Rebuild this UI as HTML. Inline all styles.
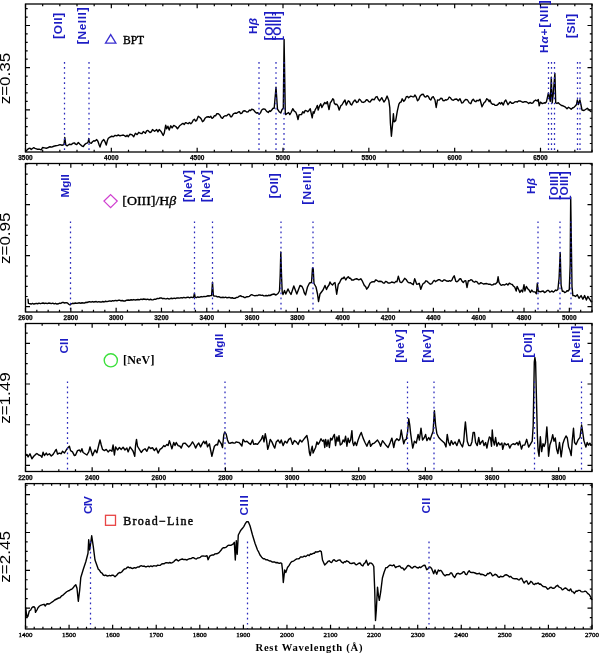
<!DOCTYPE html>
<html><head><meta charset="utf-8"><style>
html,body{margin:0;padding:0;background:#fff;}
body{width:600px;height:653px;overflow:hidden;}
svg{display:block;will-change:transform;}
</style></head><body>
<svg width="600" height="653" viewBox="0 0 600 653">
<rect width="600" height="653" fill="#fff"/>
<polyline points="25.50,151.20 26.25,150.80 28.30,148.75 30.00,148.20 31.25,149.43 32.50,148.50 33.75,147.64 35.00,148.30 37.10,149.20 39.20,149.20 41.25,149.80 42.50,147.50 44.60,147.90 46.25,148.30 48.30,147.50 50.00,146.70 51.70,147.10 53.75,146.25 55.80,145.80 57.90,145.40 60.00,144.60 62.10,145.25 64.00,144.60 64.80,137.50 65.80,145.00 67.10,145.80 68.30,145.00 69.60,144.20 71.25,144.60 72.90,143.30 74.60,142.90 75.00,143.75 76.70,144.60 78.30,142.50 80.00,144.20 81.70,145.80 83.30,146.50 84.60,144.60 86.25,143.30 87.50,142.90 88.30,141.70 88.75,138.50 89.20,141.70 90.00,142.90 91.25,143.20 92.50,141.70 93.75,140.80 95.00,141.00 96.70,139.60 97.90,141.25 99.20,145.00 100.00,147.10 100.80,144.20 102.10,141.25 103.75,139.60 105.00,141.70 106.25,145.00 107.30,140.80 108.30,138.30 110.00,137.10 111.70,136.25 113.30,136.70 115.00,135.40 116.70,135.80 118.30,135.00 120.00,135.80 121.70,135.40 123.30,135.00 124.80,135.80 125.97,136.60 127.13,135.35 128.30,136.70 130.00,134.20 131.70,134.60 133.75,136.80 135.40,133.30 137.10,134.60 138.75,132.30 140.80,133.50 142.05,133.56 143.30,131.50 145.40,133.20 146.65,130.95 147.90,130.40 150.00,132.50 151.25,131.95 152.50,129.60 154.60,131.25 156.70,129.60 157.90,131.80 159.20,129.60 161.25,131.80 163.20,135.40 164.20,133.30 165.70,125.20 166.70,128.75 167.90,126.25 169.20,130.00 170.80,125.80 172.10,127.90 173.75,125.40 175.80,126.50 177.50,128.75 179.60,125.80 181.70,124.20 182.95,123.35 184.20,124.56 185.45,122.66 186.70,123.00 188.07,123.75 189.43,122.49 190.80,123.70 192.05,122.55 193.30,120.00 194.43,119.23 195.57,121.07 196.70,120.30 198.30,116.30 200.00,117.50 201.25,119.02 202.50,121.70 203.75,120.61 205.00,118.30 206.65,116.94 208.30,116.70 209.55,117.40 210.80,116.31 212.05,118.38 213.30,117.50 214.43,115.73 215.57,115.86 216.70,113.80 218.35,113.77 220.00,115.30 221.25,117.66 222.50,118.30 223.75,116.50 225.00,115.80 226.65,115.85 228.30,114.20 229.43,114.38 230.57,116.70 231.70,116.70 233.35,113.96 235.00,113.00 236.65,113.29 238.30,112.00 239.43,111.72 240.57,113.51 241.70,113.30 243.35,110.99 245.00,110.80 246.65,112.02 248.30,111.70 249.43,110.05 250.57,110.54 251.70,109.20 253.35,109.65 255.00,111.70 256.40,113.03 257.80,112.78 259.20,114.20 260.45,112.88 261.70,110.00 263.35,108.88 265.00,109.20 266.65,111.38 268.30,112.50 269.43,110.82 270.57,111.43 271.70,110.00 272.95,108.32 274.20,108.30 276.00,87.20 277.50,109.20 279.15,111.68 280.80,113.00 282.05,109.59 283.30,108.30 284.10,39.50 285.30,113.30 285.70,114.60 287.30,113.30 288.60,112.50 289.80,114.60 291.10,112.50 292.75,108.75 294.40,111.25 295.70,112.10 296.90,115.00 298.00,119.60 299.00,115.00 300.25,114.60 301.50,114.60 302.75,111.70 304.00,112.90 305.25,110.40 306.50,110.80 307.75,111.70 309.00,110.40 310.25,108.75 311.10,112.90 312.20,117.90 313.20,111.70 314.00,113.30 315.25,109.60 316.50,107.50 317.30,105.40 318.20,110.00 319.40,106.25 320.70,103.75 321.90,107.50 323.20,105.00 324.80,102.50 326.10,103.75 327.30,101.70 329.00,109.60 330.25,102.90 331.50,101.25 332.75,98.75 333.80,100.00 334.20,103.00 335.45,104.56 336.70,104.20 337.95,106.03 339.20,110.00 340.80,105.80 342.05,104.73 343.30,102.50 345.00,100.00 346.30,105.00 348.30,100.80 349.43,101.52 350.57,104.12 351.70,105.00 353.35,101.84 355.00,100.00 356.70,102.50 357.95,101.83 359.20,99.20 360.45,100.00 361.70,102.00 363.35,102.44 365.00,101.70 366.25,99.78 367.50,100.00 368.75,101.59 370.00,102.00 372.10,99.30 374.30,99.80 375.65,97.20 377.00,96.60 378.30,99.27 379.60,100.90 381.80,97.70 383.90,102.00 385.50,99.80 387.10,96.10 388.80,100.40 389.80,107.90 390.40,122.90 391.40,136.30 392.50,125.00 393.40,113.80 394.10,121.80 395.70,120.70 397.30,111.10 398.90,104.10 400.00,102.32 401.10,102.00 402.20,98.80 403.80,101.40 405.10,99.71 406.40,96.60 407.50,96.45 408.60,97.70 410.70,96.10 412.50,96.70 413.75,96.84 415.00,95.00 416.25,97.12 417.50,100.80 418.75,99.52 420.00,96.30 421.65,94.47 423.30,94.20 424.55,96.59 425.80,97.00 427.05,95.62 428.30,96.30 429.55,98.91 430.80,100.00 432.05,97.38 433.30,96.70 435.00,100.00 436.20,107.50 437.50,100.00 439.15,100.14 440.80,98.30 441.93,98.46 443.07,100.54 444.20,100.80 445.45,99.79 446.70,100.00 447.95,99.26 449.20,97.00 450.45,97.78 451.70,99.70 453.35,100.27 455.00,99.20 456.65,99.00 458.30,100.80 460.00,98.70 461.70,103.00 462.95,102.69 464.20,100.80 465.85,99.41 467.50,100.00 469.15,102.74 470.80,103.70 472.05,100.57 473.30,99.20 474.55,101.15 475.80,101.70 477.05,100.33 478.30,100.80 480.00,99.20 482.00,106.70 484.20,102.50 485.45,101.59 486.70,98.70 487.95,99.61 489.20,101.70 490.00,100.00 491.25,103.14 492.50,104.20 493.75,104.09 495.00,105.30 496.65,105.34 498.30,104.20 499.43,102.63 500.57,104.00 501.70,102.50 503.30,105.00 504.55,101.52 505.80,100.00 508.00,104.70 510.20,101.70 511.70,103.22 513.20,103.20 514.70,101.91 516.20,101.70 517.35,102.08 518.50,101.00 520.00,100.83 521.50,101.70 523.00,102.37 524.50,101.70 526.00,101.58 527.50,102.50 528.73,103.53 529.97,102.42 531.20,103.20 532.70,103.16 534.20,101.00 535.70,100.08 537.20,101.00 538.30,99.50 539.20,105.90 540.40,102.10 542.30,103.60 544.20,102.80 545.35,102.94 546.50,101.70 547.60,96.70 548.40,92.90 549.50,97.50 550.30,101.30 551.30,77.20 552.20,102.80 553.20,94.40 554.90,73.40 555.70,102.80 557.00,103.50 558.25,102.68 559.50,104.00 561.50,105.50 563.00,105.80 565.00,106.80 567.00,108.70 568.50,107.20 570.00,108.30 571.20,109.30 572.50,108.00 574.00,107.30 575.50,105.80 576.50,104.50 577.30,100.00 578.30,104.50 579.90,100.00 580.80,104.00 582.00,110.00 584.00,110.50 585.50,109.50 587.30,108.30 588.70,109.50 590.20,111.00 591.50,112.00" fill="none" stroke="#000" stroke-width="1.4" stroke-linejoin="round"/>
<polyline points="28.00,298.80 28.40,303.30 29.60,303.70 30.00,303.70 31.25,304.03 32.50,303.46 33.75,304.02 35.00,303.70 36.34,303.37 37.68,303.73 39.02,303.17 40.36,303.68 41.70,303.30 43.08,302.99 44.47,303.50 45.85,303.12 47.23,303.62 48.62,303.06 50.00,303.30 51.38,303.66 52.77,303.18 54.15,303.85 55.53,303.31 56.92,304.03 58.30,303.80 59.55,303.17 60.80,303.43 62.05,302.53 63.30,302.50 64.70,303.00 66.10,302.67 67.50,303.00 68.75,304.26 70.00,305.00 71.25,303.81 72.50,303.30 73.95,303.48 75.40,302.99 76.85,303.41 78.30,303.00 79.55,302.81 80.80,303.26 82.05,302.77 83.30,303.00 84.55,303.05 85.80,302.30 87.05,302.47 88.30,302.00 89.64,301.71 90.98,302.21 92.32,301.56 93.66,301.98 95.00,301.70 96.25,301.52 97.50,302.07 98.75,301.69 100.00,302.00 101.38,302.04 102.77,301.52 104.15,301.99 105.53,301.23 106.92,301.60 108.30,301.30 109.73,300.92 111.16,301.30 112.59,300.67 114.01,300.97 115.44,300.40 116.87,300.77 118.30,300.30 119.64,300.15 120.98,300.81 122.32,300.53 123.66,301.02 125.00,301.00 126.65,300.23 128.30,300.00 129.70,300.22 131.10,299.72 132.50,300.02 133.90,299.55 135.30,300.05 136.70,299.70 138.08,299.46 139.47,299.84 140.85,299.18 142.23,299.53 143.62,299.02 145.00,299.20 146.38,299.49 147.77,299.19 149.15,299.79 150.53,299.25 151.92,299.89 153.30,299.70 154.64,299.11 155.98,299.26 157.32,298.35 158.66,298.62 160.00,298.00 161.25,297.89 162.50,298.68 163.75,298.33 165.00,298.70 166.25,298.92 167.50,298.36 168.75,298.95 170.00,298.70 171.38,298.28 172.77,298.70 174.15,298.17 175.53,298.52 176.92,297.87 178.30,298.00 179.70,298.17 181.10,297.62 182.50,297.98 183.90,297.37 185.30,297.84 186.70,297.50 188.15,297.16 189.60,297.84 191.05,297.16 192.50,297.50 193.60,297.30 194.40,293.30 195.20,297.40 196.40,297.58 197.60,296.90 198.80,297.29 200.00,297.00 201.34,296.56 202.68,296.90 204.02,296.40 205.36,296.61 206.70,296.30 207.97,295.73 209.23,296.02 210.50,295.60 211.60,295.50 212.50,282.30 213.40,295.80 214.50,296.00 215.94,296.13 217.38,296.93 218.82,296.60 220.26,297.43 221.70,297.50 223.02,297.25 224.34,297.67 225.66,297.16 226.98,297.84 228.30,297.50 229.64,297.36 230.98,298.03 232.32,297.70 233.66,298.42 235.00,298.30 236.45,297.46 237.90,297.22 239.35,296.18 240.80,295.80 241.93,296.60 243.07,296.62 244.20,297.50 245.57,297.47 246.93,296.71 248.30,296.70 249.43,296.35 250.57,295.17 251.70,294.70 253.35,295.42 255.00,295.80 256.25,295.42 257.50,295.59 258.75,294.98 260.00,295.00 261.25,295.36 262.50,295.18 263.75,295.86 265.00,295.80 266.25,295.54 267.50,295.85 268.75,295.23 270.00,295.50 272.00,294.50 274.00,294.00 276.00,295.00 278.00,293.50 279.50,291.00 280.20,275.00 280.80,252.00 281.50,275.00 282.20,292.00 283.00,294.50 284.50,290.50 285.80,294.00 288.00,289.00 289.50,292.01 291.00,294.50 293.80,286.00 296.80,294.00 300.00,285.50 302.00,286.50 303.17,288.93 304.33,292.94 305.50,295.00 307.50,287.00 309.50,283.00 311.50,282.50 312.50,268.00 313.20,268.50 314.00,283.50 316.00,287.00 317.50,294.00 318.50,301.50 320.00,294.00 321.50,292.00 323.00,290.00 325.00,285.50 326.50,289.50 327.75,286.77 329.00,285.00 330.00,282.00 331.25,284.06 332.50,285.00 333.75,283.29 335.00,282.50 336.70,294.20 338.30,284.20 339.55,282.72 340.80,280.00 341.93,278.29 343.07,278.48 344.20,277.00 345.80,280.00 347.05,277.85 348.30,276.70 349.43,278.26 350.57,278.26 351.70,280.00 353.35,280.06 355.00,279.20 356.65,278.72 358.30,279.70 359.55,279.61 360.80,278.70 362.05,280.54 363.30,283.30 364.43,285.66 365.57,286.55 366.70,289.20 368.35,286.99 370.00,283.30 371.65,282.03 373.30,281.70 374.43,281.76 375.57,280.00 376.70,280.30 378.35,281.49 380.00,281.30 381.65,281.50 383.30,283.00 384.43,283.13 385.57,281.43 386.70,281.70 388.35,283.12 390.00,283.00 391.65,282.05 393.30,282.50 394.53,282.88 395.77,281.41 397.00,281.70 398.30,276.30 400.00,282.00 401.25,282.64 402.50,281.70 404.70,278.30 406.10,279.45 407.50,281.70 408.90,282.83 410.30,282.60 411.70,283.70 413.30,284.70 414.70,278.70 416.70,284.20 417.95,284.17 419.20,283.30 420.80,289.20 422.05,285.80 423.30,283.30 424.55,282.85 425.80,280.80 427.05,281.18 428.30,282.50 430.30,284.20 431.80,283.54 433.30,281.30 434.43,280.37 435.57,281.65 436.70,280.80 438.20,279.80 439.70,279.70 441.10,280.86 442.50,281.30 443.75,280.07 445.00,280.00 446.65,281.04 448.30,281.30 449.43,280.65 450.57,281.17 451.70,280.50 452.95,277.68 454.20,275.80 455.80,281.30 457.05,281.74 458.30,280.80 459.55,278.99 460.80,278.70 462.05,281.22 463.30,282.50 464.55,280.89 465.80,280.80 467.00,287.50 468.30,280.80 469.55,280.79 470.80,279.70 472.05,280.20 473.30,281.70 474.55,282.20 475.80,281.30 477.05,281.78 478.30,283.70 479.43,283.91 480.57,282.70 481.70,283.00 483.35,283.98 485.00,283.70 486.65,283.53 488.30,284.20 490.00,284.10 491.40,285.03 492.80,284.90 494.15,283.84 495.50,284.10 497.20,282.30 498.10,276.80 499.00,282.30 500.60,284.90 501.75,285.23 502.90,284.60 504.70,285.00 506.50,283.70 507.90,285.00 509.30,283.20 511.10,284.10 512.25,284.48 513.40,286.00 514.80,287.30 516.20,291.00 517.10,286.40 518.50,289.20 519.90,292.40 521.30,290.10 522.60,291.90 524.00,284.60 524.90,291.00 526.30,286.40 527.70,288.70 529.10,290.10 530.40,292.40 531.80,290.10 533.20,291.90 535.00,291.90 536.40,293.80 537.30,283.20 538.30,291.50 539.60,291.50 540.80,291.84 542.00,291.20 543.20,291.03 544.40,292.54 545.60,292.10 547.30,290.40 548.47,290.38 549.63,291.95 550.80,291.80 552.00,290.87 553.20,292.10 554.40,291.20 555.57,290.07 556.73,290.53 557.90,289.50 559.10,278.00 560.20,252.50 561.10,285.10 562.30,291.20 563.47,291.08 564.63,292.53 565.80,292.10 566.97,290.76 568.13,291.00 569.30,289.50 570.20,264.00 570.70,197.30 571.30,240.00 572.00,286.80 572.90,295.60 574.20,295.66 575.50,296.50 577.30,294.80 579.00,298.30 581.10,295.60 582.90,299.20 584.60,295.60 586.40,300.00 587.80,296.50 589.60,299.20 591.30,301.80 592.00,301.00" fill="none" stroke="#000" stroke-width="1.4" stroke-linejoin="round"/>
<polyline points="25.50,455.00 26.90,454.40 28.10,456.90 30.00,453.75 31.90,458.75 33.75,456.25 35.60,454.40 36.90,453.50 38.75,455.00 40.60,455.60 41.90,457.25 43.10,452.25 44.40,455.60 46.25,453.10 47.50,455.00 49.40,453.75 51.25,456.00 53.10,454.40 55.00,451.25 56.25,449.40 57.50,454.00 59.40,453.10 61.25,453.75 62.50,451.25 64.40,453.10 66.25,450.00 68.10,447.50 69.40,446.25 70.60,450.60 72.50,451.90 74.40,455.60 75.60,455.00 77.50,450.60 79.40,450.00 80.60,451.90 81.90,448.75 83.10,452.50 85.00,453.75 86.90,455.00 88.75,451.90 90.00,446.90 91.25,451.25 92.50,455.60 94.40,451.25 95.00,450.00 96.90,452.75 98.75,445.00 100.00,440.00 101.25,445.00 102.50,449.40 104.40,450.60 106.25,449.40 108.10,451.90 110.00,450.00 111.90,451.25 113.10,445.00 114.40,455.00 115.60,446.90 117.50,450.00 119.40,447.50 121.25,449.40 123.10,447.25 125.00,450.00 126.90,448.10 128.10,451.90 130.00,446.90 131.90,449.40 133.10,451.25 134.75,456.25 135.60,445.00 136.50,439.40 137.50,446.25 139.40,449.40 141.25,452.50 143.10,450.00 145.00,448.75 146.90,451.25 148.75,446.90 150.60,448.50 152.50,447.75 154.40,450.60 156.25,448.10 158.10,453.10 160.00,449.40 161.90,448.10 163.75,445.60 165.00,446.60 166.90,444.40 168.10,445.60 169.40,440.60 170.60,444.40 171.90,448.75 173.75,442.50 175.00,445.60 176.25,442.50 178.10,445.60 180.00,446.25 181.25,448.10 183.10,443.50 185.00,443.10 186.90,445.00 188.75,446.90 190.60,445.00 192.50,441.90 194.40,445.00 195.60,448.10 197.50,444.40 198.75,443.10 200.60,446.90 202.50,443.10 203.75,441.25 205.00,443.75 206.25,441.25 207.50,446.90 209.40,443.75 210.60,450.00 211.90,456.25 213.10,451.25 214.40,446.25 216.25,444.40 217.50,445.00 218.75,440.00 220.00,441.90 221.25,443.75 222.50,447.50 223.75,435.00 224.75,431.90 226.25,434.40 227.50,440.00 228.75,443.10 230.00,443.30 231.25,442.75 232.50,442.50 233.75,443.10 235.00,442.94 236.25,441.90 237.50,442.25 238.75,442.38 240.00,443.50 241.90,446.00 243.10,439.40 245.00,441.90 246.90,441.25 248.75,443.10 250.60,444.40 252.50,440.00 253.75,444.40 255.60,443.75 257.50,444.40 259.40,441.90 261.25,439.40 262.75,435.60 264.00,441.90 265.25,433.75 266.50,440.00 267.75,449.40 269.00,445.00 270.25,439.40 271.90,441.90 273.50,445.60 274.75,448.10 276.25,441.90 278.10,440.00 280.00,443.10 281.25,440.00 283.10,445.60 285.00,441.25 286.90,443.10 288.75,439.40 290.60,438.10 292.50,444.40 294.40,440.60 296.25,441.90 298.10,444.40 300.00,440.00 301.90,441.90 303.75,439.40 305.60,437.00 306.90,435.60 308.10,441.50 309.40,452.50 310.25,455.60 311.25,450.00 312.25,446.25 313.10,453.10 314.40,450.00 315.60,447.50 316.90,441.90 318.10,444.40 319.40,442.50 321.00,438.75 322.50,441.25 323.75,440.00 324.75,447.50 325.60,439.40 326.90,446.25 328.10,440.00 329.40,447.50 330.60,438.10 331.90,440.00 333.10,436.90 334.40,434.40 335.60,445.60 336.90,436.90 338.10,441.25 339.00,435.60 340.25,445.00 341.90,443.75 343.10,440.00 344.40,441.90 345.60,436.25 346.90,446.25 348.10,438.10 349.40,442.50 350.60,440.00 351.90,430.60 352.75,442.50 353.75,445.60 355.00,441.90 356.50,445.60 358.10,440.00 360.00,435.00 361.25,432.50 363.10,438.10 365.00,442.50 366.90,446.25 368.10,443.10 369.40,440.60 370.60,446.25 372.50,443.75 374.40,443.10 376.25,441.25 377.50,440.00 379.40,443.10 380.60,446.25 382.50,440.60 384.40,443.10 386.25,445.60 388.10,447.50 390.00,443.10 391.90,438.10 393.75,447.50 395.00,441.25 396.90,438.75 398.75,440.60 400.00,438.75 401.25,430.00 402.50,437.50 403.75,443.75 405.00,440.00 406.25,439.40 407.50,432.50 408.75,418.75 409.75,425.00 410.60,433.10 411.90,442.50 412.75,448.10 414.40,441.25 416.25,443.10 418.10,434.40 419.40,440.00 421.00,428.10 422.50,440.00 424.40,437.50 425.60,434.40 426.90,440.60 428.75,437.50 430.00,440.00 431.90,434.40 433.10,431.25 434.40,410.60 435.60,425.00 436.90,433.75 438.75,437.50 440.60,439.40 442.50,441.25 444.40,443.10 446.00,446.90 447.25,434.40 448.50,441.90 450.00,445.60 451.25,440.60 453.10,444.40 455.00,441.90 456.90,445.60 459.00,439.40 460.60,443.75 462.50,446.90 463.75,441.25 464.60,430.00 465.40,421.90 466.25,430.60 467.25,441.25 468.75,445.60 470.60,445.60 471.90,441.90 473.10,432.50 474.40,432.50 475.60,442.50 477.25,445.60 478.75,437.50 480.00,444.40 481.50,441.90 482.75,440.60 484.00,445.60 485.60,442.50 486.90,448.10 488.10,441.90 489.40,436.90 490.60,438.10 491.50,446.25 492.25,430.00 493.10,440.00 494.40,445.00 495.60,437.50 496.90,446.25 498.50,442.50 500.00,445.00 501.90,443.10 502.75,449.40 504.40,443.10 506.25,445.00 508.10,443.75 509.75,448.10 511.25,445.00 513.10,443.75 515.00,444.50 517.00,442.50 518.25,445.10 519.55,441.20 521.50,449.00 522.80,445.10 524.75,445.10 526.70,439.30 528.65,447.10 530.60,443.80 532.20,441.20 533.20,425.60 534.30,362.00 534.90,357.50 535.60,362.00 536.60,405.00 537.40,436.00 538.10,450.30 539.05,456.20 540.35,436.70 541.65,451.60 543.00,443.80 544.25,446.40 545.55,442.50 546.85,426.90 547.80,441.20 548.55,456.20 549.85,445.10 551.40,440.60 552.70,434.70 554.00,441.20 555.30,438.00 556.60,449.00 557.90,453.60 559.50,442.50 561.15,456.80 562.85,443.80 564.40,439.30 566.00,436.00 567.30,438.00 568.60,447.10 569.90,450.30 571.20,455.50 572.20,441.20 573.50,428.20 574.55,442.50 576.10,444.50 578.05,439.90 580.00,437.30 581.60,425.00 582.90,433.40 583.90,440.60 585.90,447.10 587.20,442.50 588.50,445.10 589.80,443.20 591.10,445.10 592.00,444.50" fill="none" stroke="#000" stroke-width="1.4" stroke-linejoin="round"/>
<polyline points="25.60,607.30 26.20,612.00 26.90,617.00 27.80,616.50 28.50,614.00 29.30,611.00 30.70,610.00 31.70,608.00 32.70,607.00 34.00,606.70 35.00,608.00 35.50,612.30 36.30,611.00 37.30,609.30 38.00,607.70 39.30,606.30 40.70,605.30 42.70,604.70 44.00,604.30 45.30,606.00 46.30,604.30 47.30,603.70 49.30,604.00 50.70,603.00 52.70,601.70 54.70,600.00 56.70,599.00 58.70,598.00 60.00,597.70 61.70,595.80 63.35,594.79 65.00,593.30 66.65,591.75 68.30,590.80 69.43,590.53 70.57,589.47 71.70,589.20 72.95,588.08 74.20,586.30 75.80,584.70 77.00,588.30 78.30,601.30 79.70,590.00 80.80,577.50 83.30,569.20 85.80,561.70 88.00,553.30 88.70,539.70 89.70,550.00 91.70,535.80 93.30,546.70 95.00,560.00 98.30,569.20 99.55,570.36 100.80,572.40 102.05,573.10 103.30,575.00 104.55,575.59 105.80,575.07 107.05,575.99 108.30,575.80 109.55,575.34 110.80,575.83 112.05,575.15 113.30,575.30 115.00,576.70 116.65,575.28 118.30,573.30 119.43,572.54 120.57,572.73 121.70,572.00 123.30,570.00 124.55,568.90 125.80,568.88 127.05,567.49 128.30,567.00 129.43,567.83 130.57,567.53 131.70,568.30 132.95,568.51 134.20,567.66 135.45,568.03 136.70,567.50 137.95,566.84 139.20,566.98 140.45,565.87 141.70,565.80 142.95,566.34 144.20,566.03 145.45,566.81 146.70,566.70 148.08,566.13 149.47,566.74 150.85,565.98 152.23,566.61 153.62,565.73 155.00,565.90 156.33,566.05 157.67,565.16 159.00,565.40 160.33,565.20 161.67,563.98 163.00,563.70 164.33,563.68 165.67,562.77 167.00,562.70 168.33,563.15 169.67,562.48 171.00,563.00 172.35,562.64 173.70,561.70 175.00,560.30 176.30,559.40 178.30,561.00 180.30,559.70 182.30,559.00 183.65,559.64 185.00,559.40 187.00,560.00 188.35,559.11 189.70,558.70 191.03,558.64 192.37,557.70 193.70,557.70 195.00,558.65 196.30,559.00 197.65,557.97 199.00,557.70 200.35,557.33 201.70,556.10 203.00,555.87 204.30,556.10 205.65,556.21 207.00,555.70 208.10,559.70 209.70,556.10 211.00,555.34 212.30,555.00 213.63,554.95 214.97,553.84 216.30,553.70 217.65,553.53 219.00,552.60 221.00,550.30 222.30,548.30 223.65,547.63 225.00,547.70 226.35,547.03 227.70,545.70 229.00,545.16 230.30,545.40 231.65,544.96 233.00,544.10 234.30,542.30 235.30,560.00 236.30,540.80 237.20,554.20 238.30,535.00 240.00,531.70 241.25,529.74 242.50,528.30 243.75,526.62 245.00,524.20 246.70,521.70 248.30,521.70 250.00,525.80 252.50,535.00 255.00,543.30 257.50,550.00 258.75,552.16 260.00,555.00 261.65,557.16 263.30,558.70 264.55,558.77 265.80,559.84 267.05,559.65 268.30,560.30 269.55,561.01 270.80,560.93 272.05,561.98 273.30,562.00 274.55,561.90 275.80,562.79 277.05,562.46 278.30,563.00 279.43,563.36 280.57,562.85 281.70,563.30 282.50,570.00 283.30,582.50 284.70,570.00 285.80,572.50 287.50,567.50 289.15,565.30 290.80,562.50 292.20,561.42 293.60,561.06 295.00,560.00 296.65,558.93 298.30,558.70 299.43,558.45 300.57,556.91 301.70,557.00 302.95,557.08 304.20,556.07 305.45,556.53 306.70,555.80 307.95,554.92 309.20,555.65 310.45,554.04 311.70,554.20 313.30,553.30 314.43,553.19 315.57,551.82 316.70,552.00 318.35,551.74 320.00,550.80 321.30,551.70 322.50,560.00 324.70,565.00 326.70,563.00 327.95,561.45 329.20,560.80 330.45,562.09 331.70,562.50 332.95,560.43 334.20,559.70 335.45,560.98 336.70,561.30 338.35,560.14 340.00,560.00 341.65,562.18 343.30,563.00 344.43,561.66 345.57,561.98 346.70,560.80 348.35,561.57 350.00,563.30 351.65,563.47 353.30,563.00 354.43,562.99 355.57,564.63 356.70,564.70 358.35,563.47 360.00,563.00 361.45,565.13 362.90,565.90 364.03,563.65 365.17,562.77 366.30,560.20 368.00,565.30 369.80,563.00 371.20,563.09 372.60,564.20 373.80,566.50 374.70,589.50 375.50,620.50 376.30,610.20 377.50,587.20 378.40,595.20 379.30,600.40 380.70,591.80 382.40,578.00 384.10,572.20 385.90,567.60 387.05,567.64 388.20,566.50 389.60,565.29 391.00,565.30 392.45,565.73 393.90,564.80 395.60,567.60 396.75,566.67 397.90,566.50 399.70,565.90 401.20,567.96 402.70,567.94 404.20,570.00 405.85,568.27 407.50,565.80 408.75,565.53 410.00,566.30 411.25,567.72 412.50,568.00 413.75,566.67 415.00,566.30 416.65,567.49 418.30,568.00 419.43,566.90 420.57,567.65 421.70,566.70 423.35,565.49 425.00,565.30 426.70,569.70 427.95,568.87 429.20,567.00 430.45,567.18 431.70,568.70 433.70,573.70 435.00,570.00 436.70,574.20 438.30,570.00 439.43,570.93 440.57,570.34 441.70,571.30 443.35,574.17 445.00,575.80 446.65,574.69 448.30,574.70 449.43,574.59 450.57,572.96 451.70,573.00 453.20,575.94 454.70,577.50 456.70,573.70 458.35,573.26 460.00,574.20 461.65,573.43 463.30,571.70 464.43,572.02 465.57,574.38 466.70,574.70 467.95,572.23 469.20,570.80 470.45,572.33 471.70,572.50 473.35,572.33 475.00,573.00 476.65,573.74 478.30,573.70 479.43,573.28 480.57,574.45 481.70,574.20 483.35,574.58 485.00,575.80 486.25,575.41 487.50,573.53 488.75,573.71 490.00,572.50 491.25,573.56 492.50,575.80 493.75,575.36 495.00,574.20 496.65,575.00 498.30,577.00 499.43,577.37 500.57,576.24 501.70,576.70 503.35,576.54 505.00,575.00 506.65,574.71 508.30,575.80 509.43,576.97 510.57,576.35 511.70,577.50 513.35,578.65 515.00,578.70 516.65,578.69 518.30,579.70 519.43,579.88 520.57,578.44 521.70,578.30 522.95,581.08 524.20,583.00 525.45,581.41 526.70,580.80 528.30,584.20 529.55,583.41 530.80,581.30 532.05,582.24 533.30,584.20 534.43,584.55 535.57,583.52 536.70,583.70 538.30,583.00 539.43,584.31 540.57,583.97 541.70,585.30 543.35,586.60 545.00,586.70 546.25,587.31 547.50,589.20 548.75,588.75 550.00,587.50 551.25,587.29 552.50,588.30 553.75,588.31 555.00,587.50 556.25,586.02 557.50,585.30 558.75,586.80 560.00,587.50 561.15,588.13 562.30,589.80 563.45,589.33 564.60,588.20 565.75,588.03 566.90,588.90 568.05,590.16 569.20,590.70 570.60,588.90 572.00,591.60 573.15,591.88 574.30,593.40 576.10,591.00 577.25,591.23 578.40,590.40 579.75,590.35 581.10,591.60 582.50,591.92 583.90,591.60 585.05,591.14 586.20,591.60 587.60,593.40 589.40,594.80 590.80,597.10 591.70,599.40 592.00,600.00" fill="none" stroke="#000" stroke-width="1.4" stroke-linejoin="round"/>
<line x1="64.50" y1="62.0" x2="64.50" y2="152.0" stroke="#2a28bc" stroke-width="1.25" stroke-dasharray="1.7 3.38"/>
<line x1="89.00" y1="62.0" x2="89.00" y2="152.0" stroke="#2a28bc" stroke-width="1.25" stroke-dasharray="1.7 3.38"/>
<line x1="259.00" y1="62.0" x2="259.00" y2="152.0" stroke="#2a28bc" stroke-width="1.25" stroke-dasharray="1.7 3.38"/>
<line x1="276.00" y1="62.0" x2="276.00" y2="152.0" stroke="#2a28bc" stroke-width="1.25" stroke-dasharray="1.7 3.38"/>
<line x1="284.00" y1="62.0" x2="284.00" y2="152.0" stroke="#2a28bc" stroke-width="1.25" stroke-dasharray="1.7 3.38"/>
<line x1="548.50" y1="62.0" x2="548.50" y2="152.0" stroke="#2a28bc" stroke-width="1.25" stroke-dasharray="1.7 3.38"/>
<line x1="551.50" y1="62.0" x2="551.50" y2="152.0" stroke="#2a28bc" stroke-width="1.25" stroke-dasharray="1.7 3.38"/>
<line x1="554.50" y1="62.0" x2="554.50" y2="152.0" stroke="#2a28bc" stroke-width="1.25" stroke-dasharray="1.7 3.38"/>
<line x1="577.50" y1="62.0" x2="577.50" y2="152.0" stroke="#2a28bc" stroke-width="1.25" stroke-dasharray="1.7 3.38"/>
<line x1="580.00" y1="62.0" x2="580.00" y2="152.0" stroke="#2a28bc" stroke-width="1.25" stroke-dasharray="1.7 3.38"/>
<line x1="70.50" y1="221.4" x2="70.50" y2="312.0" stroke="#2a28bc" stroke-width="1.25" stroke-dasharray="1.7 3.38"/>
<line x1="194.50" y1="221.4" x2="194.50" y2="312.0" stroke="#2a28bc" stroke-width="1.25" stroke-dasharray="1.7 3.38"/>
<line x1="212.50" y1="221.4" x2="212.50" y2="312.0" stroke="#2a28bc" stroke-width="1.25" stroke-dasharray="1.7 3.38"/>
<line x1="281.00" y1="221.4" x2="281.00" y2="312.0" stroke="#2a28bc" stroke-width="1.25" stroke-dasharray="1.7 3.38"/>
<line x1="313.00" y1="221.4" x2="313.00" y2="312.0" stroke="#2a28bc" stroke-width="1.25" stroke-dasharray="1.7 3.38"/>
<line x1="538.00" y1="221.4" x2="538.00" y2="312.0" stroke="#2a28bc" stroke-width="1.25" stroke-dasharray="1.7 3.38"/>
<line x1="560.00" y1="221.4" x2="560.00" y2="312.0" stroke="#2a28bc" stroke-width="1.25" stroke-dasharray="1.7 3.38"/>
<line x1="571.00" y1="221.4" x2="571.00" y2="312.0" stroke="#2a28bc" stroke-width="1.25" stroke-dasharray="1.7 3.38"/>
<line x1="67.50" y1="381.4" x2="67.50" y2="471.5" stroke="#2a28bc" stroke-width="1.25" stroke-dasharray="1.7 3.38"/>
<line x1="225.00" y1="381.4" x2="225.00" y2="471.5" stroke="#2a28bc" stroke-width="1.25" stroke-dasharray="1.7 3.38"/>
<line x1="407.50" y1="381.4" x2="407.50" y2="471.5" stroke="#2a28bc" stroke-width="1.25" stroke-dasharray="1.7 3.38"/>
<line x1="434.00" y1="381.4" x2="434.00" y2="471.5" stroke="#2a28bc" stroke-width="1.25" stroke-dasharray="1.7 3.38"/>
<line x1="534.50" y1="381.4" x2="534.50" y2="471.5" stroke="#2a28bc" stroke-width="1.25" stroke-dasharray="1.7 3.38"/>
<line x1="581.50" y1="381.4" x2="581.50" y2="471.5" stroke="#2a28bc" stroke-width="1.25" stroke-dasharray="1.7 3.38"/>
<line x1="90.50" y1="541.6" x2="90.50" y2="629.0" stroke="#2a28bc" stroke-width="1.25" stroke-dasharray="1.7 3.38"/>
<line x1="247.50" y1="541.6" x2="247.50" y2="629.0" stroke="#2a28bc" stroke-width="1.25" stroke-dasharray="1.7 3.38"/>
<line x1="429.00" y1="541.6" x2="429.00" y2="629.0" stroke="#2a28bc" stroke-width="1.25" stroke-dasharray="1.7 3.38"/>
<rect x="25.5" y="4.0" width="566.5" height="148.0" fill="none" stroke="#000" stroke-width="1.3"/>
<path d="M25.50 152.0v-4.2M25.50 4.0v4.2M42.67 152.0v-2.2M42.67 4.0v2.2M59.83 152.0v-2.2M59.83 4.0v2.2M77.00 152.0v-2.2M77.00 4.0v2.2M94.17 152.0v-2.2M94.17 4.0v2.2M111.33 152.0v-4.2M111.33 4.0v4.2M128.50 152.0v-2.2M128.50 4.0v2.2M145.67 152.0v-2.2M145.67 4.0v2.2M162.83 152.0v-2.2M162.83 4.0v2.2M180.00 152.0v-2.2M180.00 4.0v2.2M197.17 152.0v-4.2M197.17 4.0v4.2M214.33 152.0v-2.2M214.33 4.0v2.2M231.50 152.0v-2.2M231.50 4.0v2.2M248.67 152.0v-2.2M248.67 4.0v2.2M265.83 152.0v-2.2M265.83 4.0v2.2M283.00 152.0v-4.2M283.00 4.0v4.2M300.17 152.0v-2.2M300.17 4.0v2.2M317.33 152.0v-2.2M317.33 4.0v2.2M334.50 152.0v-2.2M334.50 4.0v2.2M351.67 152.0v-2.2M351.67 4.0v2.2M368.83 152.0v-4.2M368.83 4.0v4.2M386.00 152.0v-2.2M386.00 4.0v2.2M403.17 152.0v-2.2M403.17 4.0v2.2M420.33 152.0v-2.2M420.33 4.0v2.2M437.50 152.0v-2.2M437.50 4.0v2.2M454.67 152.0v-4.2M454.67 4.0v4.2M471.83 152.0v-2.2M471.83 4.0v2.2M489.00 152.0v-2.2M489.00 4.0v2.2M506.17 152.0v-2.2M506.17 4.0v2.2M523.33 152.0v-2.2M523.33 4.0v2.2M540.50 152.0v-4.2M540.50 4.0v4.2M557.67 152.0v-2.2M557.67 4.0v2.2M574.83 152.0v-2.2M574.83 4.0v2.2M592.00 152.0v-2.2M592.00 4.0v2.2M25.5 8.64h2.2M592.0 8.64h-2.2M25.5 17.07h2.2M592.0 17.07h-2.2M25.5 25.50h4.5M592.0 25.50h-4.5M25.5 33.93h2.2M592.0 33.93h-2.2M25.5 42.36h2.2M592.0 42.36h-2.2M25.5 50.79h2.2M592.0 50.79h-2.2M25.5 59.22h2.2M592.0 59.22h-2.2M25.5 67.65h4.5M592.0 67.65h-4.5M25.5 76.08h2.2M592.0 76.08h-2.2M25.5 84.51h2.2M592.0 84.51h-2.2M25.5 92.94h2.2M592.0 92.94h-2.2M25.5 101.37h2.2M592.0 101.37h-2.2M25.5 109.80h4.5M592.0 109.80h-4.5M25.5 118.23h2.2M592.0 118.23h-2.2M25.5 126.66h2.2M592.0 126.66h-2.2M25.5 135.09h2.2M592.0 135.09h-2.2M25.5 143.52h2.2M592.0 143.52h-2.2" stroke="#000" stroke-width="1.2" fill="none"/>
<text x="25.50" y="160.0" font-family='"Liberation Sans", sans-serif' font-weight="bold" font-size="7.2" stroke="#000" stroke-width="0.25" text-anchor="middle" textLength="14.5" lengthAdjust="spacingAndGlyphs">3500</text>
<text x="111.33" y="160.0" font-family='"Liberation Sans", sans-serif' font-weight="bold" font-size="7.2" stroke="#000" stroke-width="0.25" text-anchor="middle" textLength="14.5" lengthAdjust="spacingAndGlyphs">4000</text>
<text x="197.17" y="160.0" font-family='"Liberation Sans", sans-serif' font-weight="bold" font-size="7.2" stroke="#000" stroke-width="0.25" text-anchor="middle" textLength="14.5" lengthAdjust="spacingAndGlyphs">4500</text>
<text x="283.00" y="160.0" font-family='"Liberation Sans", sans-serif' font-weight="bold" font-size="7.2" stroke="#000" stroke-width="0.25" text-anchor="middle" textLength="14.5" lengthAdjust="spacingAndGlyphs">5000</text>
<text x="368.83" y="160.0" font-family='"Liberation Sans", sans-serif' font-weight="bold" font-size="7.2" stroke="#000" stroke-width="0.25" text-anchor="middle" textLength="14.5" lengthAdjust="spacingAndGlyphs">5500</text>
<text x="454.67" y="160.0" font-family='"Liberation Sans", sans-serif' font-weight="bold" font-size="7.2" stroke="#000" stroke-width="0.25" text-anchor="middle" textLength="14.5" lengthAdjust="spacingAndGlyphs">6000</text>
<text x="540.50" y="160.0" font-family='"Liberation Sans", sans-serif' font-weight="bold" font-size="7.2" stroke="#000" stroke-width="0.25" text-anchor="middle" textLength="14.5" lengthAdjust="spacingAndGlyphs">6500</text>
<text transform="translate(10.4,78.6) rotate(-90)" font-family='"Liberation Sans", sans-serif' font-size="14.3" text-anchor="middle" textLength="51.5" lengthAdjust="spacingAndGlyphs">z=0.35</text>
<rect x="25.5" y="163.5" width="566.5" height="148.5" fill="none" stroke="#000" stroke-width="1.3"/>
<path d="M25.50 312.0v-4.2M25.50 163.5v4.2M36.83 312.0v-2.2M36.83 163.5v2.2M48.16 312.0v-2.2M48.16 163.5v2.2M59.49 312.0v-2.2M59.49 163.5v2.2M70.82 312.0v-4.2M70.82 163.5v4.2M82.15 312.0v-2.2M82.15 163.5v2.2M93.48 312.0v-2.2M93.48 163.5v2.2M104.81 312.0v-2.2M104.81 163.5v2.2M116.14 312.0v-4.2M116.14 163.5v4.2M127.47 312.0v-2.2M127.47 163.5v2.2M138.80 312.0v-2.2M138.80 163.5v2.2M150.13 312.0v-2.2M150.13 163.5v2.2M161.46 312.0v-4.2M161.46 163.5v4.2M172.79 312.0v-2.2M172.79 163.5v2.2M184.12 312.0v-2.2M184.12 163.5v2.2M195.45 312.0v-2.2M195.45 163.5v2.2M206.78 312.0v-4.2M206.78 163.5v4.2M218.11 312.0v-2.2M218.11 163.5v2.2M229.44 312.0v-2.2M229.44 163.5v2.2M240.77 312.0v-2.2M240.77 163.5v2.2M252.10 312.0v-4.2M252.10 163.5v4.2M263.43 312.0v-2.2M263.43 163.5v2.2M274.76 312.0v-2.2M274.76 163.5v2.2M286.09 312.0v-2.2M286.09 163.5v2.2M297.42 312.0v-4.2M297.42 163.5v4.2M308.75 312.0v-2.2M308.75 163.5v2.2M320.08 312.0v-2.2M320.08 163.5v2.2M331.41 312.0v-2.2M331.41 163.5v2.2M342.74 312.0v-4.2M342.74 163.5v4.2M354.07 312.0v-2.2M354.07 163.5v2.2M365.40 312.0v-2.2M365.40 163.5v2.2M376.73 312.0v-2.2M376.73 163.5v2.2M388.06 312.0v-4.2M388.06 163.5v4.2M399.39 312.0v-2.2M399.39 163.5v2.2M410.72 312.0v-2.2M410.72 163.5v2.2M422.05 312.0v-2.2M422.05 163.5v2.2M433.38 312.0v-4.2M433.38 163.5v4.2M444.71 312.0v-2.2M444.71 163.5v2.2M456.04 312.0v-2.2M456.04 163.5v2.2M467.37 312.0v-2.2M467.37 163.5v2.2M478.70 312.0v-4.2M478.70 163.5v4.2M490.03 312.0v-2.2M490.03 163.5v2.2M501.36 312.0v-2.2M501.36 163.5v2.2M512.69 312.0v-2.2M512.69 163.5v2.2M524.02 312.0v-4.2M524.02 163.5v4.2M535.35 312.0v-2.2M535.35 163.5v2.2M546.68 312.0v-2.2M546.68 163.5v2.2M558.01 312.0v-2.2M558.01 163.5v2.2M569.34 312.0v-4.2M569.34 163.5v4.2M580.67 312.0v-2.2M580.67 163.5v2.2M592.00 312.0v-2.2M592.00 163.5v2.2M25.5 163.90h2.2M592.0 163.90h-2.2M25.5 174.10h2.2M592.0 174.10h-2.2M25.5 184.30h2.2M592.0 184.30h-2.2M25.5 194.50h2.2M592.0 194.50h-2.2M25.5 204.70h4.5M592.0 204.70h-4.5M25.5 214.90h2.2M592.0 214.90h-2.2M25.5 225.10h2.2M592.0 225.10h-2.2M25.5 235.30h2.2M592.0 235.30h-2.2M25.5 245.50h2.2M592.0 245.50h-2.2M25.5 255.70h4.5M592.0 255.70h-4.5M25.5 265.90h2.2M592.0 265.90h-2.2M25.5 276.10h2.2M592.0 276.10h-2.2M25.5 286.30h2.2M592.0 286.30h-2.2M25.5 296.50h2.2M592.0 296.50h-2.2M25.5 306.70h4.5M592.0 306.70h-4.5" stroke="#000" stroke-width="1.2" fill="none"/>
<text x="25.50" y="320.0" font-family='"Liberation Sans", sans-serif' font-weight="bold" font-size="7.2" stroke="#000" stroke-width="0.25" text-anchor="middle" textLength="14.5" lengthAdjust="spacingAndGlyphs">2600</text>
<text x="70.82" y="320.0" font-family='"Liberation Sans", sans-serif' font-weight="bold" font-size="7.2" stroke="#000" stroke-width="0.25" text-anchor="middle" textLength="14.5" lengthAdjust="spacingAndGlyphs">2800</text>
<text x="116.14" y="320.0" font-family='"Liberation Sans", sans-serif' font-weight="bold" font-size="7.2" stroke="#000" stroke-width="0.25" text-anchor="middle" textLength="14.5" lengthAdjust="spacingAndGlyphs">3000</text>
<text x="161.46" y="320.0" font-family='"Liberation Sans", sans-serif' font-weight="bold" font-size="7.2" stroke="#000" stroke-width="0.25" text-anchor="middle" textLength="14.5" lengthAdjust="spacingAndGlyphs">3200</text>
<text x="206.78" y="320.0" font-family='"Liberation Sans", sans-serif' font-weight="bold" font-size="7.2" stroke="#000" stroke-width="0.25" text-anchor="middle" textLength="14.5" lengthAdjust="spacingAndGlyphs">3400</text>
<text x="252.10" y="320.0" font-family='"Liberation Sans", sans-serif' font-weight="bold" font-size="7.2" stroke="#000" stroke-width="0.25" text-anchor="middle" textLength="14.5" lengthAdjust="spacingAndGlyphs">3600</text>
<text x="297.42" y="320.0" font-family='"Liberation Sans", sans-serif' font-weight="bold" font-size="7.2" stroke="#000" stroke-width="0.25" text-anchor="middle" textLength="14.5" lengthAdjust="spacingAndGlyphs">3800</text>
<text x="342.74" y="320.0" font-family='"Liberation Sans", sans-serif' font-weight="bold" font-size="7.2" stroke="#000" stroke-width="0.25" text-anchor="middle" textLength="14.5" lengthAdjust="spacingAndGlyphs">4000</text>
<text x="388.06" y="320.0" font-family='"Liberation Sans", sans-serif' font-weight="bold" font-size="7.2" stroke="#000" stroke-width="0.25" text-anchor="middle" textLength="14.5" lengthAdjust="spacingAndGlyphs">4200</text>
<text x="433.38" y="320.0" font-family='"Liberation Sans", sans-serif' font-weight="bold" font-size="7.2" stroke="#000" stroke-width="0.25" text-anchor="middle" textLength="14.5" lengthAdjust="spacingAndGlyphs">4400</text>
<text x="478.70" y="320.0" font-family='"Liberation Sans", sans-serif' font-weight="bold" font-size="7.2" stroke="#000" stroke-width="0.25" text-anchor="middle" textLength="14.5" lengthAdjust="spacingAndGlyphs">4600</text>
<text x="524.02" y="320.0" font-family='"Liberation Sans", sans-serif' font-weight="bold" font-size="7.2" stroke="#000" stroke-width="0.25" text-anchor="middle" textLength="14.5" lengthAdjust="spacingAndGlyphs">4800</text>
<text x="569.34" y="320.0" font-family='"Liberation Sans", sans-serif' font-weight="bold" font-size="7.2" stroke="#000" stroke-width="0.25" text-anchor="middle" textLength="14.5" lengthAdjust="spacingAndGlyphs">5000</text>
<text transform="translate(10.4,238.3) rotate(-90)" font-family='"Liberation Sans", sans-serif' font-size="14.3" text-anchor="middle" textLength="51.5" lengthAdjust="spacingAndGlyphs">z=0.95</text>
<rect x="25.5" y="323.5" width="566.5" height="148.0" fill="none" stroke="#000" stroke-width="1.3"/>
<path d="M25.50 471.5v-4.2M25.50 323.5v4.2M42.16 471.5v-2.2M42.16 323.5v2.2M58.82 471.5v-2.2M58.82 323.5v2.2M75.49 471.5v-2.2M75.49 323.5v2.2M92.15 471.5v-4.2M92.15 323.5v4.2M108.81 471.5v-2.2M108.81 323.5v2.2M125.47 471.5v-2.2M125.47 323.5v2.2M142.13 471.5v-2.2M142.13 323.5v2.2M158.79 471.5v-4.2M158.79 323.5v4.2M175.46 471.5v-2.2M175.46 323.5v2.2M192.12 471.5v-2.2M192.12 323.5v2.2M208.78 471.5v-2.2M208.78 323.5v2.2M225.44 471.5v-4.2M225.44 323.5v4.2M242.10 471.5v-2.2M242.10 323.5v2.2M258.76 471.5v-2.2M258.76 323.5v2.2M275.43 471.5v-2.2M275.43 323.5v2.2M292.09 471.5v-4.2M292.09 323.5v4.2M308.75 471.5v-2.2M308.75 323.5v2.2M325.41 471.5v-2.2M325.41 323.5v2.2M342.07 471.5v-2.2M342.07 323.5v2.2M358.74 471.5v-4.2M358.74 323.5v4.2M375.40 471.5v-2.2M375.40 323.5v2.2M392.06 471.5v-2.2M392.06 323.5v2.2M408.72 471.5v-2.2M408.72 323.5v2.2M425.38 471.5v-4.2M425.38 323.5v4.2M442.04 471.5v-2.2M442.04 323.5v2.2M458.71 471.5v-2.2M458.71 323.5v2.2M475.37 471.5v-2.2M475.37 323.5v2.2M492.03 471.5v-4.2M492.03 323.5v4.2M508.69 471.5v-2.2M508.69 323.5v2.2M525.35 471.5v-2.2M525.35 323.5v2.2M542.01 471.5v-2.2M542.01 323.5v2.2M558.68 471.5v-4.2M558.68 323.5v4.2M575.34 471.5v-2.2M575.34 323.5v2.2M592.00 471.5v-2.2M592.00 323.5v2.2M25.5 333.12h2.2M592.0 333.12h-2.2M25.5 343.30h4.5M592.0 343.30h-4.5M25.5 353.48h2.2M592.0 353.48h-2.2M25.5 363.66h2.2M592.0 363.66h-2.2M25.5 373.84h2.2M592.0 373.84h-2.2M25.5 384.02h4.5M592.0 384.02h-4.5M25.5 394.20h2.2M592.0 394.20h-2.2M25.5 404.38h2.2M592.0 404.38h-2.2M25.5 414.56h2.2M592.0 414.56h-2.2M25.5 424.74h4.5M592.0 424.74h-4.5M25.5 434.92h2.2M592.0 434.92h-2.2M25.5 445.10h2.2M592.0 445.10h-2.2M25.5 455.28h2.2M592.0 455.28h-2.2M25.5 465.46h4.5M592.0 465.46h-4.5" stroke="#000" stroke-width="1.2" fill="none"/>
<text x="25.50" y="479.5" font-family='"Liberation Sans", sans-serif' font-weight="bold" font-size="7.2" stroke="#000" stroke-width="0.25" text-anchor="middle" textLength="14.5" lengthAdjust="spacingAndGlyphs">2200</text>
<text x="92.15" y="479.5" font-family='"Liberation Sans", sans-serif' font-weight="bold" font-size="7.2" stroke="#000" stroke-width="0.25" text-anchor="middle" textLength="14.5" lengthAdjust="spacingAndGlyphs">2400</text>
<text x="158.79" y="479.5" font-family='"Liberation Sans", sans-serif' font-weight="bold" font-size="7.2" stroke="#000" stroke-width="0.25" text-anchor="middle" textLength="14.5" lengthAdjust="spacingAndGlyphs">2600</text>
<text x="225.44" y="479.5" font-family='"Liberation Sans", sans-serif' font-weight="bold" font-size="7.2" stroke="#000" stroke-width="0.25" text-anchor="middle" textLength="14.5" lengthAdjust="spacingAndGlyphs">2800</text>
<text x="292.09" y="479.5" font-family='"Liberation Sans", sans-serif' font-weight="bold" font-size="7.2" stroke="#000" stroke-width="0.25" text-anchor="middle" textLength="14.5" lengthAdjust="spacingAndGlyphs">3000</text>
<text x="358.74" y="479.5" font-family='"Liberation Sans", sans-serif' font-weight="bold" font-size="7.2" stroke="#000" stroke-width="0.25" text-anchor="middle" textLength="14.5" lengthAdjust="spacingAndGlyphs">3200</text>
<text x="425.38" y="479.5" font-family='"Liberation Sans", sans-serif' font-weight="bold" font-size="7.2" stroke="#000" stroke-width="0.25" text-anchor="middle" textLength="14.5" lengthAdjust="spacingAndGlyphs">3400</text>
<text x="492.03" y="479.5" font-family='"Liberation Sans", sans-serif' font-weight="bold" font-size="7.2" stroke="#000" stroke-width="0.25" text-anchor="middle" textLength="14.5" lengthAdjust="spacingAndGlyphs">3600</text>
<text x="558.68" y="479.5" font-family='"Liberation Sans", sans-serif' font-weight="bold" font-size="7.2" stroke="#000" stroke-width="0.25" text-anchor="middle" textLength="14.5" lengthAdjust="spacingAndGlyphs">3800</text>
<text transform="translate(10.4,398.1) rotate(-90)" font-family='"Liberation Sans", sans-serif' font-size="14.3" text-anchor="middle" textLength="51.5" lengthAdjust="spacingAndGlyphs">z=1.49</text>
<rect x="25.5" y="483.6" width="566.5" height="145.39999999999998" fill="none" stroke="#000" stroke-width="1.3"/>
<path d="M25.50 629.0v-4.2M25.50 483.6v4.2M34.22 629.0v-2.2M34.22 483.6v2.2M42.93 629.0v-2.2M42.93 483.6v2.2M51.65 629.0v-2.2M51.65 483.6v2.2M60.36 629.0v-2.2M60.36 483.6v2.2M69.08 629.0v-4.2M69.08 483.6v4.2M77.79 629.0v-2.2M77.79 483.6v2.2M86.51 629.0v-2.2M86.51 483.6v2.2M95.22 629.0v-2.2M95.22 483.6v2.2M103.94 629.0v-2.2M103.94 483.6v2.2M112.65 629.0v-4.2M112.65 483.6v4.2M121.37 629.0v-2.2M121.37 483.6v2.2M130.08 629.0v-2.2M130.08 483.6v2.2M138.80 629.0v-2.2M138.80 483.6v2.2M147.52 629.0v-2.2M147.52 483.6v2.2M156.23 629.0v-4.2M156.23 483.6v4.2M164.95 629.0v-2.2M164.95 483.6v2.2M173.66 629.0v-2.2M173.66 483.6v2.2M182.38 629.0v-2.2M182.38 483.6v2.2M191.09 629.0v-2.2M191.09 483.6v2.2M199.81 629.0v-4.2M199.81 483.6v4.2M208.52 629.0v-2.2M208.52 483.6v2.2M217.24 629.0v-2.2M217.24 483.6v2.2M225.95 629.0v-2.2M225.95 483.6v2.2M234.67 629.0v-2.2M234.67 483.6v2.2M243.38 629.0v-4.2M243.38 483.6v4.2M252.10 629.0v-2.2M252.10 483.6v2.2M260.82 629.0v-2.2M260.82 483.6v2.2M269.53 629.0v-2.2M269.53 483.6v2.2M278.25 629.0v-2.2M278.25 483.6v2.2M286.96 629.0v-4.2M286.96 483.6v4.2M295.68 629.0v-2.2M295.68 483.6v2.2M304.39 629.0v-2.2M304.39 483.6v2.2M313.11 629.0v-2.2M313.11 483.6v2.2M321.82 629.0v-2.2M321.82 483.6v2.2M330.54 629.0v-4.2M330.54 483.6v4.2M339.25 629.0v-2.2M339.25 483.6v2.2M347.97 629.0v-2.2M347.97 483.6v2.2M356.68 629.0v-2.2M356.68 483.6v2.2M365.40 629.0v-2.2M365.40 483.6v2.2M374.12 629.0v-4.2M374.12 483.6v4.2M382.83 629.0v-2.2M382.83 483.6v2.2M391.55 629.0v-2.2M391.55 483.6v2.2M400.26 629.0v-2.2M400.26 483.6v2.2M408.98 629.0v-2.2M408.98 483.6v2.2M417.69 629.0v-4.2M417.69 483.6v4.2M426.41 629.0v-2.2M426.41 483.6v2.2M435.12 629.0v-2.2M435.12 483.6v2.2M443.84 629.0v-2.2M443.84 483.6v2.2M452.55 629.0v-2.2M452.55 483.6v2.2M461.27 629.0v-4.2M461.27 483.6v4.2M469.98 629.0v-2.2M469.98 483.6v2.2M478.70 629.0v-2.2M478.70 483.6v2.2M487.42 629.0v-2.2M487.42 483.6v2.2M496.13 629.0v-2.2M496.13 483.6v2.2M504.85 629.0v-4.2M504.85 483.6v4.2M513.56 629.0v-2.2M513.56 483.6v2.2M522.28 629.0v-2.2M522.28 483.6v2.2M530.99 629.0v-2.2M530.99 483.6v2.2M539.71 629.0v-2.2M539.71 483.6v2.2M548.42 629.0v-4.2M548.42 483.6v4.2M557.14 629.0v-2.2M557.14 483.6v2.2M565.85 629.0v-2.2M565.85 483.6v2.2M574.57 629.0v-2.2M574.57 483.6v2.2M583.28 629.0v-2.2M583.28 483.6v2.2M592.00 629.0v-4.2M592.00 483.6v4.2M25.5 485.25h2.2M592.0 485.25h-2.2M25.5 494.70h4.5M592.0 494.70h-4.5M25.5 504.15h2.2M592.0 504.15h-2.2M25.5 513.60h2.2M592.0 513.60h-2.2M25.5 523.05h2.2M592.0 523.05h-2.2M25.5 532.50h4.5M592.0 532.50h-4.5M25.5 541.95h2.2M592.0 541.95h-2.2M25.5 551.40h2.2M592.0 551.40h-2.2M25.5 560.85h2.2M592.0 560.85h-2.2M25.5 570.30h4.5M592.0 570.30h-4.5M25.5 579.75h2.2M592.0 579.75h-2.2M25.5 589.20h2.2M592.0 589.20h-2.2M25.5 598.65h2.2M592.0 598.65h-2.2M25.5 608.10h4.5M592.0 608.10h-4.5M25.5 617.55h2.2M592.0 617.55h-2.2M25.5 627.00h2.2M592.0 627.00h-2.2" stroke="#000" stroke-width="1.2" fill="none"/>
<text x="25.50" y="636.8" font-family='"Liberation Serif", serif' font-size="6.9" stroke="#000" stroke-width="0.35" text-anchor="middle" textLength="14" lengthAdjust="spacingAndGlyphs">1400</text>
<text x="69.08" y="636.8" font-family='"Liberation Serif", serif' font-size="6.9" stroke="#000" stroke-width="0.35" text-anchor="middle" textLength="14" lengthAdjust="spacingAndGlyphs">1500</text>
<text x="112.65" y="636.8" font-family='"Liberation Serif", serif' font-size="6.9" stroke="#000" stroke-width="0.35" text-anchor="middle" textLength="14" lengthAdjust="spacingAndGlyphs">1600</text>
<text x="156.23" y="636.8" font-family='"Liberation Serif", serif' font-size="6.9" stroke="#000" stroke-width="0.35" text-anchor="middle" textLength="14" lengthAdjust="spacingAndGlyphs">1700</text>
<text x="199.81" y="636.8" font-family='"Liberation Serif", serif' font-size="6.9" stroke="#000" stroke-width="0.35" text-anchor="middle" textLength="14" lengthAdjust="spacingAndGlyphs">1800</text>
<text x="243.38" y="636.8" font-family='"Liberation Serif", serif' font-size="6.9" stroke="#000" stroke-width="0.35" text-anchor="middle" textLength="14" lengthAdjust="spacingAndGlyphs">1900</text>
<text x="286.96" y="636.8" font-family='"Liberation Serif", serif' font-size="6.9" stroke="#000" stroke-width="0.35" text-anchor="middle" textLength="14" lengthAdjust="spacingAndGlyphs">2000</text>
<text x="330.54" y="636.8" font-family='"Liberation Serif", serif' font-size="6.9" stroke="#000" stroke-width="0.35" text-anchor="middle" textLength="14" lengthAdjust="spacingAndGlyphs">2100</text>
<text x="374.12" y="636.8" font-family='"Liberation Serif", serif' font-size="6.9" stroke="#000" stroke-width="0.35" text-anchor="middle" textLength="14" lengthAdjust="spacingAndGlyphs">2200</text>
<text x="417.69" y="636.8" font-family='"Liberation Serif", serif' font-size="6.9" stroke="#000" stroke-width="0.35" text-anchor="middle" textLength="14" lengthAdjust="spacingAndGlyphs">2300</text>
<text x="461.27" y="636.8" font-family='"Liberation Serif", serif' font-size="6.9" stroke="#000" stroke-width="0.35" text-anchor="middle" textLength="14" lengthAdjust="spacingAndGlyphs">2400</text>
<text x="504.85" y="636.8" font-family='"Liberation Serif", serif' font-size="6.9" stroke="#000" stroke-width="0.35" text-anchor="middle" textLength="14" lengthAdjust="spacingAndGlyphs">2500</text>
<text x="548.42" y="636.8" font-family='"Liberation Serif", serif' font-size="6.9" stroke="#000" stroke-width="0.35" text-anchor="middle" textLength="14" lengthAdjust="spacingAndGlyphs">2600</text>
<text x="592.00" y="636.8" font-family='"Liberation Serif", serif' font-size="6.9" stroke="#000" stroke-width="0.35" text-anchor="middle" textLength="14" lengthAdjust="spacingAndGlyphs">2700</text>
<text transform="translate(10.4,556.9) rotate(-90)" font-family='"Liberation Sans", sans-serif' font-size="14.3" text-anchor="middle" textLength="51.5" lengthAdjust="spacingAndGlyphs">z=2.45</text>
<text transform="translate(61.5,25.85) rotate(-90)" font-family='"Liberation Sans", sans-serif' font-weight="bold" font-size="11.8" fill="#1c1cc4" stroke="#1c1cc4" stroke-width="0" text-anchor="middle" textLength="26.5" lengthAdjust="spacing"><tspan font-size="13.6">[</tspan>OII<tspan font-size="13.6">]</tspan></text>
<text transform="translate(86.1,25.85) rotate(-90)" font-family='"Liberation Sans", sans-serif' font-weight="bold" font-size="11.8" fill="#1c1cc4" stroke="#1c1cc4" stroke-width="0" text-anchor="middle" textLength="37.5" lengthAdjust="spacing"><tspan font-size="13.6">[</tspan>NeIII<tspan font-size="13.6">]</tspan></text>
<text transform="translate(256.9,25.95) rotate(-90)" font-family='"Liberation Sans", sans-serif' font-weight="bold" font-size="11.8" fill="#1c1cc4" stroke="#1c1cc4" stroke-width="0" text-anchor="middle" textLength="16.3" lengthAdjust="spacing">H<tspan font-style="italic">&#946;</tspan></text>
<text transform="translate(272.8,25.90) rotate(-90)" font-family='"Liberation Sans", sans-serif' font-weight="bold" font-size="11.8" fill="#1c1cc4" stroke="#1c1cc4" stroke-width="0" text-anchor="middle" textLength="29.2" lengthAdjust="spacing"><tspan font-size="13.6">[</tspan>OIII<tspan font-size="13.6">]</tspan></text>
<text transform="translate(281.2,25.90) rotate(-90)" font-family='"Liberation Sans", sans-serif' font-weight="bold" font-size="11.8" fill="#1c1cc4" stroke="#1c1cc4" stroke-width="0" text-anchor="middle" textLength="29.2" lengthAdjust="spacing"><tspan font-size="13.6">[</tspan>OIII<tspan font-size="13.6">]</tspan></text>
<text transform="translate(548.3,26.60) rotate(-90)" font-family='"Liberation Sans", sans-serif' font-weight="bold" font-size="11.8" fill="#1c1cc4" stroke="#1c1cc4" stroke-width="0" text-anchor="middle" textLength="52.6" lengthAdjust="spacing">H<tspan font-style="italic">&#945;</tspan>+<tspan font-size="13.6">[</tspan>NII<tspan font-size="13.6">]</tspan></text>
<text transform="translate(575.3,25.95) rotate(-90)" font-family='"Liberation Sans", sans-serif' font-weight="bold" font-size="11.8" fill="#1c1cc4" stroke="#1c1cc4" stroke-width="0" text-anchor="middle" textLength="24.7" lengthAdjust="spacing"><tspan font-size="13.6">[</tspan>SII<tspan font-size="13.6">]</tspan></text>
<text transform="translate(69.1,185.85) rotate(-90)" font-family='"Liberation Sans", sans-serif' font-weight="bold" font-size="11.8" fill="#1c1cc4" stroke="#1c1cc4" stroke-width="0" text-anchor="middle" textLength="23.3" lengthAdjust="spacing">MgII</text>
<text transform="translate(191.70000000000002,186.12) rotate(-90)" font-family='"Liberation Sans", sans-serif' font-weight="bold" font-size="11.8" fill="#1c1cc4" stroke="#1c1cc4" stroke-width="0" text-anchor="middle" textLength="32.4" lengthAdjust="spacing"><tspan font-size="13.6">[</tspan>NeV<tspan font-size="13.6">]</tspan></text>
<text transform="translate(209.70000000000002,186.12) rotate(-90)" font-family='"Liberation Sans", sans-serif' font-weight="bold" font-size="11.8" fill="#1c1cc4" stroke="#1c1cc4" stroke-width="0" text-anchor="middle" textLength="32.4" lengthAdjust="spacing"><tspan font-size="13.6">[</tspan>NeV<tspan font-size="13.6">]</tspan></text>
<text transform="translate(278.0,185.85) rotate(-90)" font-family='"Liberation Sans", sans-serif' font-weight="bold" font-size="11.8" fill="#1c1cc4" stroke="#1c1cc4" stroke-width="0" text-anchor="middle" textLength="25.5" lengthAdjust="spacing"><tspan font-size="13.6">[</tspan>OII<tspan font-size="13.6">]</tspan></text>
<text transform="translate(310.5,185.50) rotate(-90)" font-family='"Liberation Sans", sans-serif' font-weight="bold" font-size="11.8" fill="#1c1cc4" stroke="#1c1cc4" stroke-width="0" text-anchor="middle" textLength="38.7" lengthAdjust="spacing"><tspan font-size="13.6">[</tspan>NeIII<tspan font-size="13.6">]</tspan></text>
<text transform="translate(534.5,185.85) rotate(-90)" font-family='"Liberation Sans", sans-serif' font-weight="bold" font-size="11.8" fill="#1c1cc4" stroke="#1c1cc4" stroke-width="0" text-anchor="middle" textLength="16.1" lengthAdjust="spacing">H<tspan font-style="italic">&#946;</tspan></text>
<text transform="translate(557.9,185.70) rotate(-90)" font-family='"Liberation Sans", sans-serif' font-weight="bold" font-size="11.8" fill="#1c1cc4" stroke="#1c1cc4" stroke-width="0" text-anchor="middle" textLength="28.8" lengthAdjust="spacing"><tspan font-size="13.6">[</tspan>OIII<tspan font-size="13.6">]</tspan></text>
<text transform="translate(568.1999999999999,185.70) rotate(-90)" font-family='"Liberation Sans", sans-serif' font-weight="bold" font-size="11.8" fill="#1c1cc4" stroke="#1c1cc4" stroke-width="0" text-anchor="middle" textLength="28.8" lengthAdjust="spacing"><tspan font-size="13.6">[</tspan>OIII<tspan font-size="13.6">]</tspan></text>
<text transform="translate(68.3,345.90) rotate(-90)" font-family='"Liberation Sans", sans-serif' font-weight="bold" font-size="11.8" fill="#1c1cc4" stroke="#1c1cc4" stroke-width="0" text-anchor="middle" textLength="15.2" lengthAdjust="spacing">CII</text>
<text transform="translate(222.8,345.70) rotate(-90)" font-family='"Liberation Sans", sans-serif' font-weight="bold" font-size="11.8" fill="#1c1cc4" stroke="#1c1cc4" stroke-width="0" text-anchor="middle" textLength="24.0" lengthAdjust="spacing">MgII</text>
<text transform="translate(403.7,346.00) rotate(-90)" font-family='"Liberation Sans", sans-serif' font-weight="bold" font-size="11.8" fill="#1c1cc4" stroke="#1c1cc4" stroke-width="0" text-anchor="middle" textLength="33.6" lengthAdjust="spacing"><tspan font-size="13.6">[</tspan>NeV<tspan font-size="13.6">]</tspan></text>
<text transform="translate(431.1,346.00) rotate(-90)" font-family='"Liberation Sans", sans-serif' font-weight="bold" font-size="11.8" fill="#1c1cc4" stroke="#1c1cc4" stroke-width="0" text-anchor="middle" textLength="33.6" lengthAdjust="spacing"><tspan font-size="13.6">[</tspan>NeV<tspan font-size="13.6">]</tspan></text>
<text transform="translate(531.6999999999999,345.15) rotate(-90)" font-family='"Liberation Sans", sans-serif' font-weight="bold" font-size="11.8" fill="#1c1cc4" stroke="#1c1cc4" stroke-width="0" text-anchor="middle" textLength="25.1" lengthAdjust="spacing"><tspan font-size="13.6">[</tspan>OII<tspan font-size="13.6">]</tspan></text>
<text transform="translate(579.5,344.30) rotate(-90)" font-family='"Liberation Sans", sans-serif' font-weight="bold" font-size="11.8" fill="#1c1cc4" stroke="#1c1cc4" stroke-width="0" text-anchor="middle" textLength="37.0" lengthAdjust="spacing"><tspan font-size="13.6">[</tspan>NeIII<tspan font-size="13.6">]</tspan></text>
<text transform="translate(91.7,505.00) rotate(-90)" font-family='"Liberation Sans", sans-serif' font-weight="bold" font-size="11.8" fill="#1c1cc4" stroke="#1c1cc4" stroke-width="0" text-anchor="middle" textLength="17.8" lengthAdjust="spacing">CIV</text>
<text transform="translate(247.9,505.40) rotate(-90)" font-family='"Liberation Sans", sans-serif' font-weight="bold" font-size="11.8" fill="#1c1cc4" stroke="#1c1cc4" stroke-width="0" text-anchor="middle" textLength="20.4" lengthAdjust="spacing">CIII</text>
<text transform="translate(430.0,505.60) rotate(-90)" font-family='"Liberation Sans", sans-serif' font-weight="bold" font-size="11.8" fill="#1c1cc4" stroke="#1c1cc4" stroke-width="0" text-anchor="middle" textLength="15.8" lengthAdjust="spacing">CII</text>
<path d="M110.7 34.6 L115.9 43.2 L105.5 43.2 Z" fill="none" stroke="#3a2fd0" stroke-width="1.3"/>
<text x="122.9" y="44.2" font-family='"Liberation Serif", serif' font-size="11.5" stroke="#000" stroke-width="0.35" textLength="21.3" lengthAdjust="spacingAndGlyphs">BPT</text>
<path d="M110.6 194.6 L117.2 201.1 L110.6 207.6 L104 201.1 Z" fill="none" stroke="#d040d0" stroke-width="1.3"/>
<text x="122.3" y="205.3" font-family='"Liberation Serif", serif' font-size="13.4" stroke="#000" stroke-width="0.35" textLength="53.9" lengthAdjust="spacingAndGlyphs">[OIII]/H<tspan font-style="italic">&#946;</tspan></text>
<circle cx="110.8" cy="360.3" r="6.6" fill="none" stroke="#3ce03c" stroke-width="1.4"/>
<text x="123" y="364.2" font-family='"Liberation Serif", serif' font-weight="bold" font-size="12" textLength="31.4" lengthAdjust="spacing">[NeV]</text>
<rect x="105.5" y="515.3" width="10" height="10" fill="none" stroke="#e84444" stroke-width="1.3"/>
<text x="123.2" y="524.5" font-family='"Liberation Serif", serif' font-size="12" stroke="#000" stroke-width="0.4" textLength="69.8" lengthAdjust="spacing">Broad&#8722;Line</text>
<text x="255.5" y="650.5" font-family='"Liberation Serif", serif' font-weight="bold" font-size="10.6" textLength="107" lengthAdjust="spacing">Rest Wavelength (&#197;)</text>
</svg>
</body></html>
